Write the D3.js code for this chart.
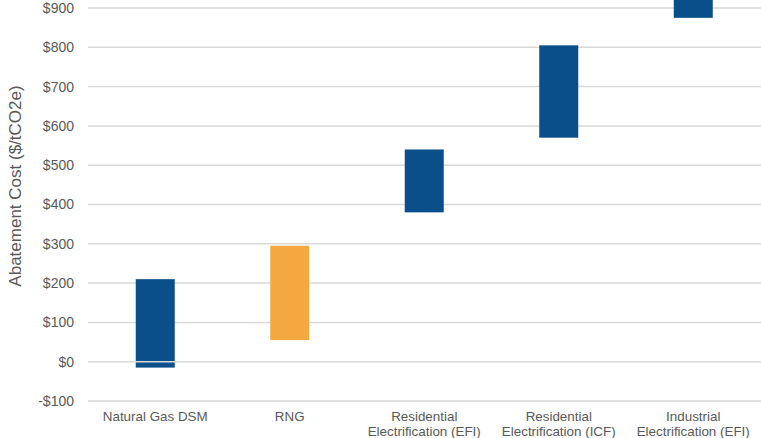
<!DOCTYPE html>
<html>
<head>
<meta charset="utf-8">
<script src="https://cdn.jsdelivr.net/npm/d3@7"></script>
<style>
  html, body { margin: 0; padding: 0; background: #fff; }
  svg { display: block; font-family: "Liberation Sans", Arial, sans-serif; }
</style>
</head>
<body>
<svg id="chart" width="761" height="438"></svg>
<script>
// Abatement cost ranges by measure ($/tCO2e)
const categories = [
  "Natural Gas DSM",
  "RNG",
  "Residential Electrification (EFI)",
  "Residential Electrification (ICF)",
  "Industrial Electrification (EFI)"
];
const categoryLines = [
  ["Natural Gas DSM"],
  ["RNG"],
  ["Residential", "Electrification (EFI)"],
  ["Residential", "Electrification (ICF)"],
  ["Industrial", "Electrification (EFI)"]
];
const lowCost  = [-15, 55, 380, 570, 875];
const highCost = [210, 295, 540, 805, 1000];
const barColors = ["#0a4e8a", "#f4a940", "#0a4e8a", "#0a4e8a", "#0a4e8a"];
const yTicks = [-100, 0, 100, 200, 300, 400, 500, 600, 700, 800, 900];
const yTitle = "Abatement Cost ($/tCO2e)";

const svg = d3.select("#chart");
const plotLeft = 88, plotRight = 761;

const x = d3.scalePoint().domain(categories).range([plotLeft, 760.5]).padding(0.5);
const y = d3.scaleLinear().domain([-100, 900]).range([401, 8]);
const barWidth = 39;

const fmt = v => (v < 0 ? "-$" : "$") + Math.abs(v);

// horizontal gridlines (zero line is drawn later, over the bars)
svg.append("g").selectAll("line")
  .data(yTicks.filter(d => d !== 0))
  .join("line")
  .attr("x1", plotLeft).attr("x2", plotRight)
  .attr("y1", d => y(d)).attr("y2", d => y(d))
  .attr("stroke", "#d9d9d9").attr("stroke-width", 1.5);

// y tick labels
svg.append("g").selectAll("text")
  .data(yTicks)
  .join("text")
  .attr("x", 74).attr("y", d => y(d))
  .attr("dy", "0.35em")
  .attr("text-anchor", "end")
  .attr("font-size", 14)
  .attr("fill", "#595959")
  .text(fmt);

// floating range bars
svg.append("g").selectAll("rect")
  .data(categories)
  .join("rect")
  .attr("x", (d) => x(d) - barWidth / 2)
  .attr("width", barWidth)
  .attr("y", (d, i) => y(highCost[i]))
  .attr("height", (d, i) => y(lowCost[i]) - y(highCost[i]))
  .attr("fill", (d, i) => barColors[i]);

// zero baseline
svg.append("line")
  .attr("x1", plotLeft).attr("x2", plotRight)
  .attr("y1", y(0)).attr("y2", y(0))
  .attr("stroke", "#d9d9d9").attr("stroke-width", 1.5);

// category labels
const cat = svg.append("g").selectAll("text")
  .data(categories)
  .join("text")
  .attr("x", d => x(d))
  .attr("y", 421)
  .attr("text-anchor", "middle")
  .attr("font-size", 13.4)
  .attr("fill", "#595959");
cat.selectAll("tspan")
  .data((d, i) => categoryLines[i])
  .join("tspan")
  .attr("x", function () { return d3.select(this.parentNode).attr("x"); })
  .attr("dy", (d, i) => i === 0 ? 0 : 14.5)
  .text(d => d);

// y axis title
svg.append("text")
  .attr("transform", "translate(21,186) rotate(-90)")
  .attr("text-anchor", "middle")
  .attr("font-size", 17)
  .attr("fill", "#595959")
  .text(yTitle);
</script>
</body>
</html>
